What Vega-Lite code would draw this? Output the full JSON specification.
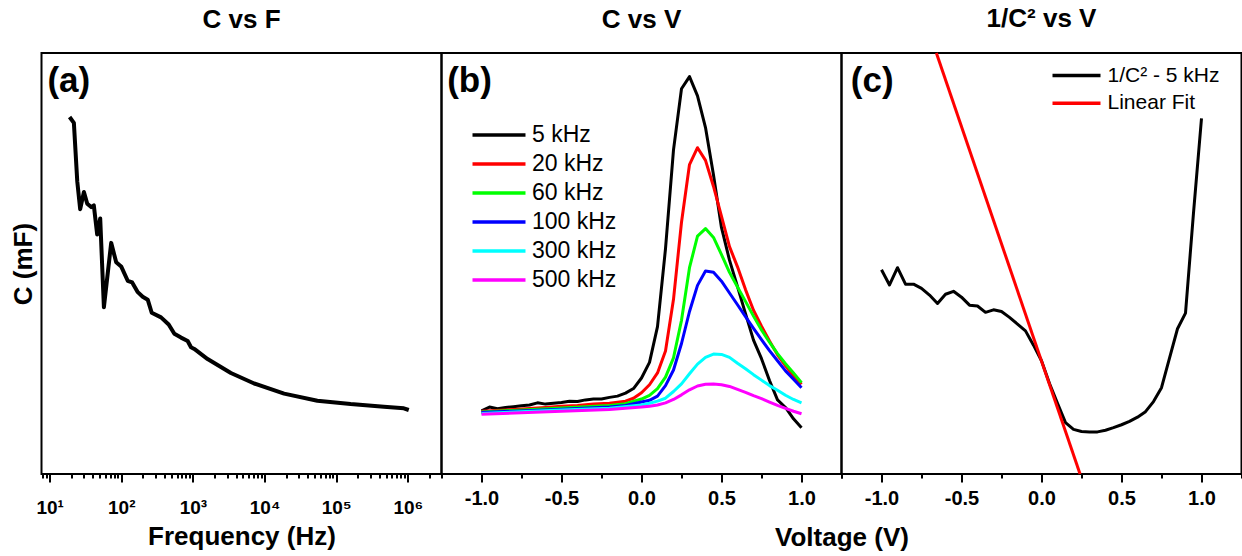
{
  "$schema": "https://vega.github.io/schema/vega-lite/v6.json",
  "padding": {"left": 8.5, "top": 4, "right": 0, "bottom": 0},
  "spacing": 0,
  "bounds": "flush",
  "resolve": {
    "scale": {"x": "independent", "y": "independent", "color": "independent"},
    "legend": {"color": "independent"}
  },
  "config": {
    "font": "Liberation Sans",
    "view": {"stroke": "#000000", "strokeWidth": 2},
    "axis": {
      "grid": false,
      "domain": false,
      "labelFont": "Liberation Sans",
      "titleFont": "Liberation Sans",
      "labelColor": "#000000",
      "titleColor": "#000000",
      "tickColor": "#000000",
      "tickWidth": 2,
      "labelFontWeight": "bold",
      "titleFontWeight": "bold",
      "labelOverlap": false,
      "labelFlush": false
    },
    "title": {"font": "Liberation Sans", "fontSize": 26, "fontWeight": "bold", "color": "#000000", "offset": 20},
    "legend": {"labelFont": "Liberation Sans", "labelColor": "#000000", "labelLimit": 300}
  },
  "datasets": {
    "cf": [
      {"f": 19, "C": 84.8}, {"f": 21.8, "C": 83.4}, {"f": 24.3, "C": 69.5}, {"f": 26.7, "C": 62.9},
      {"f": 30.1, "C": 67.0}, {"f": 33.5, "C": 64.2}, {"f": 38, "C": 63.4}, {"f": 41.4, "C": 63.8},
      {"f": 46.1, "C": 56.9}, {"f": 50.8, "C": 60.7}, {"f": 57.2, "C": 39.6}, {"f": 72.3, "C": 54.9},
      {"f": 84.9, "C": 50.3}, {"f": 99.6, "C": 49.3}, {"f": 123, "C": 45.9}, {"f": 142, "C": 45.5},
      {"f": 170, "C": 43.2}, {"f": 199, "C": 42.1}, {"f": 234, "C": 41.4}, {"f": 266, "C": 38.3},
      {"f": 359, "C": 37.2}, {"f": 459, "C": 35.5}, {"f": 551, "C": 33.3}, {"f": 682, "C": 32.4},
      {"f": 845, "C": 31.6}, {"f": 940, "C": 30.1}, {"f": 1045, "C": 29.7}, {"f": 1603, "C": 27.3},
      {"f": 3388, "C": 24.0}, {"f": 7161, "C": 21.5}, {"f": 18750, "C": 19.1}, {"f": 54600, "C": 17.4},
      {"f": 158900, "C": 16.6}, {"f": 463000, "C": 16.0}, {"f": 879000, "C": 15.6}, {"f": 1030000, "C": 15.2}
    ],
    "tagA": [{"f": 18.5, "C": 93.3, "tag": "(a)"}],
    "tagB": [{"V": -1.075, "C": 93.3, "tag": "(b)"}],
    "tagC": [{"V": -1.058, "Y": 93.3, "tag": "(c)"}],
    "zero": [{"V": 0}],
    "cv": [
      {"freq": "5 kHz", "V": -1.0, "C": 15.0}, {"freq": "5 kHz", "V": -0.95, "C": 15.9}, {"freq": "5 kHz", "V": -0.9, "C": 15.5},
      {"freq": "5 kHz", "V": -0.85, "C": 15.8}, {"freq": "5 kHz", "V": -0.8, "C": 16.0}, {"freq": "5 kHz", "V": -0.75, "C": 16.2},
      {"freq": "5 kHz", "V": -0.7, "C": 16.4}, {"freq": "5 kHz", "V": -0.65, "C": 16.9}, {"freq": "5 kHz", "V": -0.6, "C": 16.6},
      {"freq": "5 kHz", "V": -0.55, "C": 16.8}, {"freq": "5 kHz", "V": -0.5, "C": 17.0}, {"freq": "5 kHz", "V": -0.45, "C": 17.3},
      {"freq": "5 kHz", "V": -0.4, "C": 17.2}, {"freq": "5 kHz", "V": -0.35, "C": 17.6}, {"freq": "5 kHz", "V": -0.3, "C": 17.8},
      {"freq": "5 kHz", "V": -0.25, "C": 17.8}, {"freq": "5 kHz", "V": -0.2, "C": 18.2}, {"freq": "5 kHz", "V": -0.15, "C": 18.5},
      {"freq": "5 kHz", "V": -0.1, "C": 19.2}, {"freq": "5 kHz", "V": -0.05, "C": 20.3}, {"freq": "5 kHz", "V": 0.0, "C": 22.8},
      {"freq": "5 kHz", "V": 0.05, "C": 26.5}, {"freq": "5 kHz", "V": 0.1, "C": 35.0}, {"freq": "5 kHz", "V": 0.15, "C": 53.5},
      {"freq": "5 kHz", "V": 0.2, "C": 77.0}, {"freq": "5 kHz", "V": 0.25, "C": 91.5}, {"freq": "5 kHz", "V": 0.3, "C": 94.4},
      {"freq": "5 kHz", "V": 0.35, "C": 89.8}, {"freq": "5 kHz", "V": 0.4, "C": 82.3}, {"freq": "5 kHz", "V": 0.45, "C": 71.0},
      {"freq": "5 kHz", "V": 0.5, "C": 58.5}, {"freq": "5 kHz", "V": 0.55, "C": 50.8}, {"freq": "5 kHz", "V": 0.6, "C": 44.5},
      {"freq": "5 kHz", "V": 0.65, "C": 38.1}, {"freq": "5 kHz", "V": 0.7, "C": 31.8}, {"freq": "5 kHz", "V": 0.75, "C": 27.4},
      {"freq": "5 kHz", "V": 0.8, "C": 22.2}, {"freq": "5 kHz", "V": 0.85, "C": 17.6}, {"freq": "5 kHz", "V": 0.9, "C": 15.8},
      {"freq": "5 kHz", "V": 0.95, "C": 13.1}, {"freq": "5 kHz", "V": 1.0, "C": 11.0},

      {"freq": "20 kHz", "V": -1.0, "C": 14.9}, {"freq": "20 kHz", "V": -0.8, "C": 15.3}, {"freq": "20 kHz", "V": -0.6, "C": 15.8},
      {"freq": "20 kHz", "V": -0.5, "C": 16.1}, {"freq": "20 kHz", "V": -0.4, "C": 16.3}, {"freq": "20 kHz", "V": -0.3, "C": 16.6},
      {"freq": "20 kHz", "V": -0.2, "C": 16.8}, {"freq": "20 kHz", "V": -0.1, "C": 17.3}, {"freq": "20 kHz", "V": -0.05, "C": 18.0},
      {"freq": "20 kHz", "V": 0.0, "C": 19.3}, {"freq": "20 kHz", "V": 0.05, "C": 21.2}, {"freq": "20 kHz", "V": 0.1, "C": 24.0},
      {"freq": "20 kHz", "V": 0.15, "C": 29.2}, {"freq": "20 kHz", "V": 0.2, "C": 41.5}, {"freq": "20 kHz", "V": 0.25, "C": 59.8},
      {"freq": "20 kHz", "V": 0.3, "C": 73.5}, {"freq": "20 kHz", "V": 0.35, "C": 77.5}, {"freq": "20 kHz", "V": 0.4, "C": 74.5},
      {"freq": "20 kHz", "V": 0.45, "C": 68.3}, {"freq": "20 kHz", "V": 0.5, "C": 61.2}, {"freq": "20 kHz", "V": 0.55, "C": 54.0},
      {"freq": "20 kHz", "V": 0.6, "C": 49.2}, {"freq": "20 kHz", "V": 0.65, "C": 43.8}, {"freq": "20 kHz", "V": 0.7, "C": 38.9},
      {"freq": "20 kHz", "V": 0.75, "C": 35.1}, {"freq": "20 kHz", "V": 0.8, "C": 31.6}, {"freq": "20 kHz", "V": 0.85, "C": 28.3},
      {"freq": "20 kHz", "V": 0.9, "C": 25.7}, {"freq": "20 kHz", "V": 0.95, "C": 23.3}, {"freq": "20 kHz", "V": 1.0, "C": 21.3},

      {"freq": "60 kHz", "V": -1.0, "C": 14.7}, {"freq": "60 kHz", "V": -0.5, "C": 15.7}, {"freq": "60 kHz", "V": -0.2, "C": 16.3},
      {"freq": "60 kHz", "V": -0.1, "C": 16.7}, {"freq": "60 kHz", "V": 0.0, "C": 17.8}, {"freq": "60 kHz", "V": 0.05, "C": 18.7},
      {"freq": "60 kHz", "V": 0.1, "C": 20.3}, {"freq": "60 kHz", "V": 0.15, "C": 23.0}, {"freq": "60 kHz", "V": 0.2, "C": 27.6},
      {"freq": "60 kHz", "V": 0.25, "C": 36.5}, {"freq": "60 kHz", "V": 0.3, "C": 49.0}, {"freq": "60 kHz", "V": 0.35, "C": 56.5},
      {"freq": "60 kHz", "V": 0.4, "C": 58.3}, {"freq": "60 kHz", "V": 0.45, "C": 56.2}, {"freq": "60 kHz", "V": 0.5, "C": 52.1},
      {"freq": "60 kHz", "V": 0.55, "C": 47.9}, {"freq": "60 kHz", "V": 0.6, "C": 44.4}, {"freq": "60 kHz", "V": 0.65, "C": 41.0},
      {"freq": "60 kHz", "V": 0.7, "C": 37.5}, {"freq": "60 kHz", "V": 0.75, "C": 34.2}, {"freq": "60 kHz", "V": 0.8, "C": 31.3},
      {"freq": "60 kHz", "V": 0.85, "C": 28.6}, {"freq": "60 kHz", "V": 0.9, "C": 26.2}, {"freq": "60 kHz", "V": 0.95, "C": 24.0},
      {"freq": "60 kHz", "V": 1.0, "C": 21.7},

      {"freq": "100 kHz", "V": -1.0, "C": 14.6}, {"freq": "100 kHz", "V": -0.5, "C": 15.4}, {"freq": "100 kHz", "V": -0.2, "C": 15.9},
      {"freq": "100 kHz", "V": -0.1, "C": 16.3}, {"freq": "100 kHz", "V": 0.0, "C": 17.1}, {"freq": "100 kHz", "V": 0.05, "C": 17.5},
      {"freq": "100 kHz", "V": 0.1, "C": 18.5}, {"freq": "100 kHz", "V": 0.15, "C": 21.0}, {"freq": "100 kHz", "V": 0.2, "C": 24.7},
      {"freq": "100 kHz", "V": 0.25, "C": 31.0}, {"freq": "100 kHz", "V": 0.3, "C": 38.6}, {"freq": "100 kHz", "V": 0.35, "C": 44.8},
      {"freq": "100 kHz", "V": 0.4, "C": 48.2}, {"freq": "100 kHz", "V": 0.45, "C": 47.9}, {"freq": "100 kHz", "V": 0.5, "C": 45.8},
      {"freq": "100 kHz", "V": 0.55, "C": 43.0}, {"freq": "100 kHz", "V": 0.6, "C": 40.2}, {"freq": "100 kHz", "V": 0.65, "C": 37.4},
      {"freq": "100 kHz", "V": 0.7, "C": 34.6}, {"freq": "100 kHz", "V": 0.75, "C": 31.9}, {"freq": "100 kHz", "V": 0.8, "C": 29.3},
      {"freq": "100 kHz", "V": 0.85, "C": 26.9}, {"freq": "100 kHz", "V": 0.9, "C": 24.5}, {"freq": "100 kHz", "V": 0.95, "C": 22.5},
      {"freq": "100 kHz", "V": 1.0, "C": 20.5},

      {"freq": "300 kHz", "V": -1.0, "C": 14.4}, {"freq": "300 kHz", "V": -0.5, "C": 15.2}, {"freq": "300 kHz", "V": -0.2, "C": 15.6},
      {"freq": "300 kHz", "V": 0.0, "C": 16.4}, {"freq": "300 kHz", "V": 0.05, "C": 16.8}, {"freq": "300 kHz", "V": 0.1, "C": 17.3},
      {"freq": "300 kHz", "V": 0.15, "C": 18.0}, {"freq": "300 kHz", "V": 0.2, "C": 19.6}, {"freq": "300 kHz", "V": 0.25, "C": 21.4},
      {"freq": "300 kHz", "V": 0.3, "C": 23.8}, {"freq": "300 kHz", "V": 0.35, "C": 26.1}, {"freq": "300 kHz", "V": 0.4, "C": 27.7},
      {"freq": "300 kHz", "V": 0.45, "C": 28.5}, {"freq": "300 kHz", "V": 0.5, "C": 28.4}, {"freq": "300 kHz", "V": 0.55, "C": 27.7},
      {"freq": "300 kHz", "V": 0.6, "C": 26.3}, {"freq": "300 kHz", "V": 0.65, "C": 25.0}, {"freq": "300 kHz", "V": 0.7, "C": 23.6},
      {"freq": "300 kHz", "V": 0.75, "C": 22.3}, {"freq": "300 kHz", "V": 0.8, "C": 21.0}, {"freq": "300 kHz", "V": 0.85, "C": 19.9},
      {"freq": "300 kHz", "V": 0.9, "C": 18.7}, {"freq": "300 kHz", "V": 0.95, "C": 17.7}, {"freq": "300 kHz", "V": 1.0, "C": 16.9},

      {"freq": "500 kHz", "V": -1.0, "C": 14.2}, {"freq": "500 kHz", "V": -0.5, "C": 14.9}, {"freq": "500 kHz", "V": -0.2, "C": 15.3},
      {"freq": "500 kHz", "V": 0.0, "C": 15.9}, {"freq": "500 kHz", "V": 0.05, "C": 16.1}, {"freq": "500 kHz", "V": 0.1, "C": 16.4},
      {"freq": "500 kHz", "V": 0.15, "C": 16.9}, {"freq": "500 kHz", "V": 0.2, "C": 17.7}, {"freq": "500 kHz", "V": 0.25, "C": 18.8},
      {"freq": "500 kHz", "V": 0.3, "C": 20.0}, {"freq": "500 kHz", "V": 0.35, "C": 20.9}, {"freq": "500 kHz", "V": 0.4, "C": 21.3},
      {"freq": "500 kHz", "V": 0.45, "C": 21.4}, {"freq": "500 kHz", "V": 0.5, "C": 21.2}, {"freq": "500 kHz", "V": 0.55, "C": 20.8},
      {"freq": "500 kHz", "V": 0.6, "C": 20.1}, {"freq": "500 kHz", "V": 0.65, "C": 19.4}, {"freq": "500 kHz", "V": 0.7, "C": 18.6},
      {"freq": "500 kHz", "V": 0.75, "C": 17.9}, {"freq": "500 kHz", "V": 0.8, "C": 17.1}, {"freq": "500 kHz", "V": 0.85, "C": 16.3},
      {"freq": "500 kHz", "V": 0.9, "C": 15.6}, {"freq": "500 kHz", "V": 0.95, "C": 14.9}, {"freq": "500 kHz", "V": 1.0, "C": 14.3}
    ],
    "ic2": [
      {"series": "1/C² - 5 kHz", "V": -1.0, "Y": 48.5}, {"series": "1/C² - 5 kHz", "V": -0.95, "Y": 44.9},
      {"series": "1/C² - 5 kHz", "V": -0.9, "Y": 49.0}, {"series": "1/C² - 5 kHz", "V": -0.85, "Y": 45.1},
      {"series": "1/C² - 5 kHz", "V": -0.8, "Y": 45.1}, {"series": "1/C² - 5 kHz", "V": -0.75, "Y": 44.1},
      {"series": "1/C² - 5 kHz", "V": -0.7, "Y": 42.5}, {"series": "1/C² - 5 kHz", "V": -0.65, "Y": 40.5},
      {"series": "1/C² - 5 kHz", "V": -0.6, "Y": 42.7}, {"series": "1/C² - 5 kHz", "V": -0.55, "Y": 43.4},
      {"series": "1/C² - 5 kHz", "V": -0.5, "Y": 42.0}, {"series": "1/C² - 5 kHz", "V": -0.45, "Y": 40.1},
      {"series": "1/C² - 5 kHz", "V": -0.4, "Y": 39.9}, {"series": "1/C² - 5 kHz", "V": -0.35, "Y": 38.4},
      {"series": "1/C² - 5 kHz", "V": -0.3, "Y": 39.0}, {"series": "1/C² - 5 kHz", "V": -0.25, "Y": 38.6},
      {"series": "1/C² - 5 kHz", "V": -0.2, "Y": 37.2}, {"series": "1/C² - 5 kHz", "V": -0.15, "Y": 35.6},
      {"series": "1/C² - 5 kHz", "V": -0.1, "Y": 34.0}, {"series": "1/C² - 5 kHz", "V": -0.05, "Y": 30.6},
      {"series": "1/C² - 5 kHz", "V": 0.0, "Y": 26.9}, {"series": "1/C² - 5 kHz", "V": 0.05, "Y": 21.5},
      {"series": "1/C² - 5 kHz", "V": 0.1, "Y": 16.8}, {"series": "1/C² - 5 kHz", "V": 0.15, "Y": 12.2},
      {"series": "1/C² - 5 kHz", "V": 0.2, "Y": 10.6}, {"series": "1/C² - 5 kHz", "V": 0.25, "Y": 10.1},
      {"series": "1/C² - 5 kHz", "V": 0.3, "Y": 10.0}, {"series": "1/C² - 5 kHz", "V": 0.35, "Y": 10.0},
      {"series": "1/C² - 5 kHz", "V": 0.4, "Y": 10.4}, {"series": "1/C² - 5 kHz", "V": 0.45, "Y": 11.0},
      {"series": "1/C² - 5 kHz", "V": 0.5, "Y": 11.7}, {"series": "1/C² - 5 kHz", "V": 0.55, "Y": 12.5},
      {"series": "1/C² - 5 kHz", "V": 0.6, "Y": 13.5}, {"series": "1/C² - 5 kHz", "V": 0.65, "Y": 14.8},
      {"series": "1/C² - 5 kHz", "V": 0.7, "Y": 17.2}, {"series": "1/C² - 5 kHz", "V": 0.75, "Y": 20.5},
      {"series": "1/C² - 5 kHz", "V": 0.8, "Y": 27.5}, {"series": "1/C² - 5 kHz", "V": 0.85, "Y": 34.5},
      {"series": "1/C² - 5 kHz", "V": 0.9, "Y": 38.2}, {"series": "1/C² - 5 kHz", "V": 0.95, "Y": 62.0},
      {"series": "1/C² - 5 kHz", "V": 1.0, "Y": 84.5},
      {"series": "Linear Fit", "V": -0.657, "Y": 100.0}, {"series": "Linear Fit", "V": 0.241, "Y": 0.0}
    ]
  },
  "hconcat": [
    {
      "width": 400,
      "height": 421,
      "title": {"text": "C vs F"},
      "encoding": {
        "x": {
          "field": "f", "type": "quantitative",
          "scale": {"type": "log", "domain": [7.7, 2950000], "nice": false},
          "axis": {
            "title": "Frequency (Hz)",
            "titleFontSize": 26,
            "titlePadding": 6,
            "labelFontSize": 19,
            "labelPadding": 16,
            "values": [8, 9, 10, 20, 30, 40, 50, 60, 70, 80, 90, 100, 200, 300, 400, 500, 600, 700, 800, 900,
                       1000, 2000, 3000, 4000, 5000, 6000, 7000, 8000, 9000, 10000, 20000, 30000, 40000, 50000,
                       60000, 70000, 80000, 90000, 100000, 200000, 300000, 400000, 500000, 600000, 700000, 800000,
                       900000, 1000000, 2000000],
            "labelExpr": "abs(log(datum.value)/LN10 - round(log(datum.value)/LN10)) < 1e-6 ? '10' + substring('⁰¹²³⁴⁵⁶', round(log(datum.value)/LN10), round(log(datum.value)/LN10) + 1) : ''",
            "tickSize": {"condition": {"test": "abs(log(datum.value)/LN10 - round(log(datum.value)/LN10)) < 1e-6", "value": 8}, "value": 4}
          }
        },
        "y": {
          "field": "C", "type": "quantitative",
          "scale": {"domain": [0, 100], "nice": false, "zero": false},
          "axis": {"title": "C (mF)", "labels": false, "ticks": false, "titleFontSize": 26, "titlePadding": 5.5}
        }
      },
      "layer": [
        {
          "data": {"name": "cf"},
          "mark": {"type": "line", "color": "#000000", "strokeWidth": 4, "strokeJoin": "round"}
        },
        {
          "data": {"name": "tagA"},
          "mark": {"type": "text", "fontSize": 35, "fontWeight": "bold", "align": "center", "baseline": "middle", "color": "#000000"},
          "encoding": {"text": {"field": "tag"}}
        }
      ]
    },
    {
      "width": 400,
      "height": 421,
      "title": {"text": "C vs V"},
      "encoding": {
        "x": {
          "field": "V", "type": "quantitative",
          "scale": {"domain": [-1.25, 1.25], "nice": false, "zero": false},
          "axis": {
            "title": "Voltage (V)",
            "titleX": 400,
            "titleAlign": "center",
            "titleFontSize": 26,
            "titlePadding": 16,
            "labelFontSize": 20,
            "labelPadding": 6,
            "values": [-1.25, -1, -0.75, -0.5, -0.25, 0, 0.25, 0.5, 0.75, 1, 1.25],
            "labelExpr": "abs(datum.value*2 - round(datum.value*2)) < 1e-6 ? (datum.value < 0 ? '-' : '') + format(abs(datum.value), '.1f') : ''",
            "tickSize": {"condition": {"test": "abs(datum.value*2 - round(datum.value*2)) < 1e-6", "value": 8}, "value": 4}
          }
        },
        "y": {
          "field": "C", "type": "quantitative",
          "scale": {"domain": [0, 100], "nice": false, "zero": false},
          "axis": null
        }
      },
      "layer": [
        {
          "data": {"name": "zero"},
          "mark": {"type": "rule", "color": "#000000", "strokeWidth": 1.5},
          "encoding": {"y": {"datum": 0, "type": "quantitative", "axis": null}, "y2": {"datum": 100}}
        },
        {
          "data": {"name": "cv"},
          "mark": {"type": "line", "strokeWidth": 3, "strokeJoin": "round"},
          "encoding": {
            "color": {
              "field": "freq", "type": "nominal",
              "sort": ["5 kHz", "20 kHz", "60 kHz", "100 kHz", "300 kHz", "500 kHz"],
              "scale": {
                "domain": ["5 kHz", "20 kHz", "60 kHz", "100 kHz", "300 kHz", "500 kHz"],
                "range": ["#000000", "#ff0000", "#00ff00", "#0000ff", "#00ffff", "#ff00ff"]
              },
              "legend": {
                "orient": "none",
                "legendX": 42.5,
                "legendY": 67,
                "title": null,
                "padding": 0,
                "symbolType": "M-2,0H2",
                "symbolSize": 702,
                "symbolStrokeWidth": 3.5,
                "labelFontSize": 23,
                "labelOffset": 18,
                "rowPadding": 2
              }
            }
          }
        },
        {
          "data": {"name": "tagB"},
          "mark": {"type": "text", "fontSize": 35, "fontWeight": "bold", "align": "center", "baseline": "middle", "color": "#000000"},
          "encoding": {"text": {"field": "tag"}}
        }
      ]
    },
    {
      "width": 400,
      "height": 421,
      "title": {"text": "1/C² vs V"},
      "encoding": {
        "x": {
          "field": "V", "type": "quantitative",
          "scale": {"domain": [-1.25, 1.25], "nice": false, "zero": false},
          "axis": {
            "title": null,
            "labelFontSize": 20,
            "labelPadding": 6,
            "values": [-1.25, -1, -0.75, -0.5, -0.25, 0, 0.25, 0.5, 0.75, 1, 1.25],
            "labelExpr": "abs(datum.value*2 - round(datum.value*2)) < 1e-6 ? (datum.value < 0 ? '-' : '') + format(abs(datum.value), '.1f') : ''",
            "tickSize": {"condition": {"test": "abs(datum.value*2 - round(datum.value*2)) < 1e-6", "value": 8}, "value": 4}
          }
        },
        "y": {
          "field": "Y", "type": "quantitative",
          "scale": {"domain": [0, 100], "nice": false, "zero": false},
          "axis": null
        }
      },
      "layer": [
        {
          "data": {"name": "zero"},
          "mark": {"type": "rule", "color": "#000000", "strokeWidth": 1.5},
          "encoding": {"y": {"datum": 0, "type": "quantitative", "axis": null}, "y2": {"datum": 100}}
        },
        {
          "data": {"name": "ic2"},
          "mark": {"type": "line", "strokeWidth": 3, "strokeJoin": "round"},
          "encoding": {
            "color": {
              "field": "series", "type": "nominal",
              "sort": ["1/C² - 5 kHz", "Linear Fit"],
              "scale": {"domain": ["1/C² - 5 kHz", "Linear Fit"], "range": ["#000000", "#ff0000"]},
              "legend": {
                "orient": "none",
                "legendX": 221,
                "legendY": 8.5,
                "title": null,
                "padding": 0,
                "symbolType": "M-2,0H2",
                "symbolSize": 576,
                "symbolStrokeWidth": 3.5,
                "labelFontSize": 21,
                "labelOffset": 17,
                "rowPadding": 3.8
              }
            }
          }
        },
        {
          "data": {"name": "tagC"},
          "mark": {"type": "text", "fontSize": 35, "fontWeight": "bold", "align": "center", "baseline": "middle", "color": "#000000"},
          "encoding": {"text": {"field": "tag"}}
        }
      ]
    }
  ]
}
